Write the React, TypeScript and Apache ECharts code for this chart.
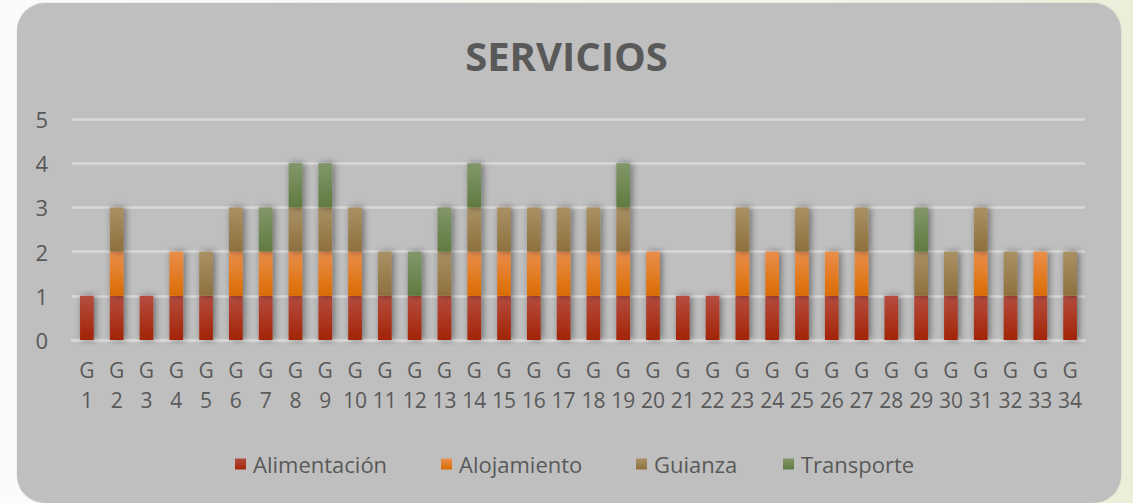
import React, { useEffect, useRef } from "react";
import * as echarts from "echarts";

const categories = [
  "G 1", "G 2", "G 3", "G 4", "G 5", "G 6", "G 7", "G 8", "G 9", "G 10",
  "G 11", "G 12", "G 13", "G 14", "G 15", "G 16", "G 17", "G 18", "G 19", "G 20",
  "G 21", "G 22", "G 23", "G 24", "G 25", "G 26", "G 27", "G 28", "G 29", "G 30",
  "G 31", "G 32", "G 33", "G 34",
];
const alimentacion = [1, 1, 1, 1, 1, 1, 1, 1, 1, 1, 1, 1, 1, 1, 1, 1, 1, 1, 1, 1, 1, 1, 1, 1, 1, 1, 1, 1, 1, 1, 1, 1, 1, 1];
const alojamiento = [0, 1, 0, 1, 0, 1, 1, 1, 1, 1, 0, 0, 0, 1, 1, 1, 1, 1, 1, 1, 0, 0, 1, 1, 1, 1, 1, 0, 0, 0, 1, 0, 1, 0];
const guianza = [0, 1, 0, 0, 1, 1, 0, 1, 1, 1, 1, 0, 1, 1, 1, 1, 1, 1, 1, 0, 0, 0, 1, 0, 1, 0, 1, 0, 1, 1, 1, 1, 0, 1];
const transporte = [0, 0, 0, 0, 0, 0, 1, 1, 1, 0, 0, 1, 1, 1, 0, 0, 0, 0, 1, 0, 0, 0, 0, 0, 0, 0, 0, 0, 1, 0, 0, 0, 0, 0];
const yTicks = [0, 1, 2, 3, 4, 5];

const FONT = "'Open Sans', Lato, sans-serif";
const TEXT = "#595959";

function grad(top: string, bottom: string) {
  return new echarts.graphic.LinearGradient(0, 0, 0, 1, [
    { offset: 0, color: top },
    { offset: 1, color: bottom },
  ]);
}

const seriesDefs = [
  { name: "Alimentación", data: alimentacion, top: "#b54d40", bottom: "#a22406", icon: "#a82a0e" },
  { name: "Alojamiento", data: alojamiento, top: "#ea8e4c", bottom: "#db6c02", icon: "#e67c1c" },
  { name: "Guianza", data: guianza, top: "#aa9165", bottom: "#8e703e", icon: "#9f8050" },
  { name: "Transporte", data: transporte, top: "#81976a", bottom: "#607a40", icon: "#6f8752" },
];

const legendLefts = [230, 436, 631, 778];

export default function App() {
  const ref = useRef<HTMLDivElement>(null);
  useEffect(() => {
    if (!ref.current) return;
    const chart = echarts.init(ref.current, undefined, { renderer: "svg" });
    chart.setOption({
      animation: false,
      title: {
        text: "SERVICIOS",
        left: "center",
        top: 29,
        textStyle: { fontFamily: FONT, fontSize: 40, fontWeight: "bold", color: TEXT, lineHeight: 42 },
      },
      legend: seriesDefs.map((s, i) => ({
        data: [s.name],
        left: legendLefts[i],
        top: 448,
        itemWidth: 11,
        itemHeight: 11,
        itemGap: 0,
        icon: "rect",
        textStyle: { fontFamily: FONT, fontSize: 22, color: TEXT, padding: [0, 0, 0, 2] },
      })),
      grid: { left: 72, right: 48, top: 119, bottom: 163, containLabel: false },
      xAxis: {
        type: "category",
        data: categories,
        axisLine: { show: true, lineStyle: { color: "#d9d9d9", width: 2.5 } },
        axisTick: { show: false },
        axisLabel: {
          interval: 0,
          margin: 15,
          fontFamily: FONT,
          fontSize: 21,
          lineHeight: 30,
          color: TEXT,
          formatter: (v: string) => v.split(" ").join("\n"),
        },
      },
      yAxis: {
        type: "value",
        min: yTicks[0],
        max: yTicks[yTicks.length - 1],
        interval: 1,
        axisLine: { show: false },
        axisTick: { show: false },
        splitLine: { lineStyle: { color: "#d9d9d9", width: 2.5 } },
        axisLabel: { margin: 24, fontFamily: FONT, fontSize: 22, color: TEXT },
      },
      series: seriesDefs.map((s) => ({
        name: s.name,
        type: "bar",
        stack: "total",
        barWidth: "46%",
        data: s.data.map((v) => (v === 0 ? null : v)),
        itemStyle: {
          color: grad(s.top, s.bottom),
          shadowBlur: 7,
          shadowColor: "rgba(0,0,0,0.45)",
          shadowOffsetX: 2,
          shadowOffsetY: 0,
        },
        emphasis: { disabled: true },
      })),
      color: seriesDefs.map((s) => s.icon),
    });
    return () => chart.dispose();
  }, []);

  return (
    <div
      style={{
        position: "fixed",
        left: 0,
        top: 0,
        width: 1133,
        height: 503,
        background: "linear-gradient(to right, #fbfbfb 0%, #f3f6ec 70%, #e9efd9 100%)",
        overflow: "hidden",
      }}
    >
      <div
        style={{
          position: "absolute",
          left: 17,
          top: 3,
          width: 1104,
          height: 500,
          background: "#bfbfbf",
          borderRadius: 28,
          boxShadow: "0 0 2px rgba(0,0,0,0.15)",
        }}
      />
      <div ref={ref} style={{ position: "absolute", left: 0, top: 0, width: 1133, height: 503 }} />
    </div>
  );
}
